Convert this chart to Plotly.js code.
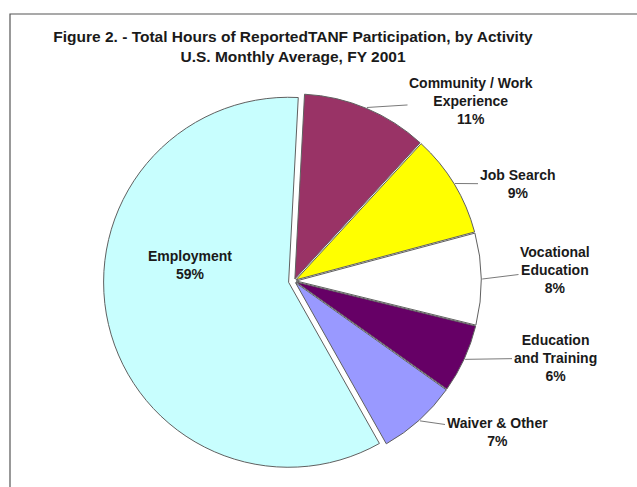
<!DOCTYPE html>
<html><head><meta charset="utf-8">
<script src="https://cdn.plot.ly/plotly-3.0.1.min.js"></script>
<style>html,body{margin:0;padding:0;background:#fff;overflow:hidden;} #chart{width:637px;height:487px;}</style>
</head><body><div id="chart"></div>
<script>
// ---- data ----
const activities = ['Community / Work Experience', 'Job Search', 'Vocational Education', 'Education and Training', 'Waiver & Other', 'Employment'];
const labelLines = ['Community / Work<br>Experience', 'Job Search', 'Vocational<br>Education', 'Education<br>and Training', 'Waiver & Other', 'Employment'];
const shares = [11, 9, 8, 6, 7, 59];
const sliceColors = ['#993366', '#FFFF00', '#FFFFFF', '#660066', '#9999FF', '#C8FEFE'];

// ---- layout constants ----
const W = 637, H = 487;
const cx = 294, cy = 281, R = 185, rotation = 3;
const pulls = [0.012, 0.012, 0.012, 0.012, 0.012, 0.03];
const labelPos = [[471, 101], [517, 184], [555, 270], [555, 358], [497, 432], [190, 265]];
const maxPull = Math.max(...pulls);
const half = R * (1 + maxPull);

const total = shares.reduce((a, b) => a + b, 0);
const annFont = {family: 'Liberation Sans, Arial, sans-serif', size: 14, color: '#1a1a1a', weight: 'bold'};
const annotations = [];
let cum = 0;
shares.forEach((v, i) => {
  const mid = (rotation + (cum + v / 2) / total * 360) * Math.PI / 180;
  cum += v;
  const text = labelLines[i] + '<br>' + Math.round(v / total * 100) + '%';
  const [tx, ty] = labelPos[i];
  if (i === shares.length - 1) {
    annotations.push({x: tx / W, y: 1 - ty / H, xref: 'paper', yref: 'paper', text: text,
      xanchor: 'center', yanchor: 'middle',
      showarrow: false, font: annFont, align: 'center'});
  } else {
    const rr = R * (1 + pulls[i]) + 1;
    const hx = cx + rr * Math.sin(mid), hy = cy - rr * Math.cos(mid);
    annotations.push({x: hx / W, y: 1 - hy / H, xref: 'paper', yref: 'paper', text: text,
      showarrow: true, arrowhead: 0, arrowwidth: 1, arrowcolor: '#7a7a7a', standoff: 0,
      ax: tx - hx, ay: ty - hy, font: annFont, align: 'center'});
  }
});

const trace = {
  type: 'pie',
  labels: activities,
  values: shares,
  sort: false,
  direction: 'clockwise',
  rotation: rotation,
  pull: pulls,
  textinfo: 'none',
  hoverinfo: 'label+percent',
  marker: {colors: sliceColors, line: {color: '#606060', width: 1}},
  domain: {x: [(cx - half) / W, (cx + half) / W], y: [(H - cy - half) / H, (H - cy + half) / H]},
  showlegend: false
};

const layout = {
  width: W, height: H,
  margin: {l: 0, r: 0, t: 0, b: 0},
  paper_bgcolor: '#ffffff',
  plot_bgcolor: '#ffffff',
  showlegend: false,
  title: {
    text: 'Figure 2. - Total Hours of ReportedTANF Participation, by Activity<br>U.S. Monthly Average, FY 2001',
    x: 293 / W, xanchor: 'center', y: 1 - 42 / H, yanchor: 'top',
    font: {family: 'Liberation Sans, Arial, sans-serif', size: 15.5, color: '#1a1a1a', weight: 'bold'}
  },
  annotations: annotations,
  shapes: [{type: 'rect', xref: 'paper', yref: 'paper', x0: 10 / W, x1: 1.2, y0: -0.2, y1: 1 - 14 / H,
    line: {color: '#555555', width: 1.2}, fillcolor: 'rgba(0,0,0,0)', layer: 'below'}]
};

Plotly.newPlot('chart', [trace], layout, {displayModeBar: false, staticPlot: true});
</script></body></html>
